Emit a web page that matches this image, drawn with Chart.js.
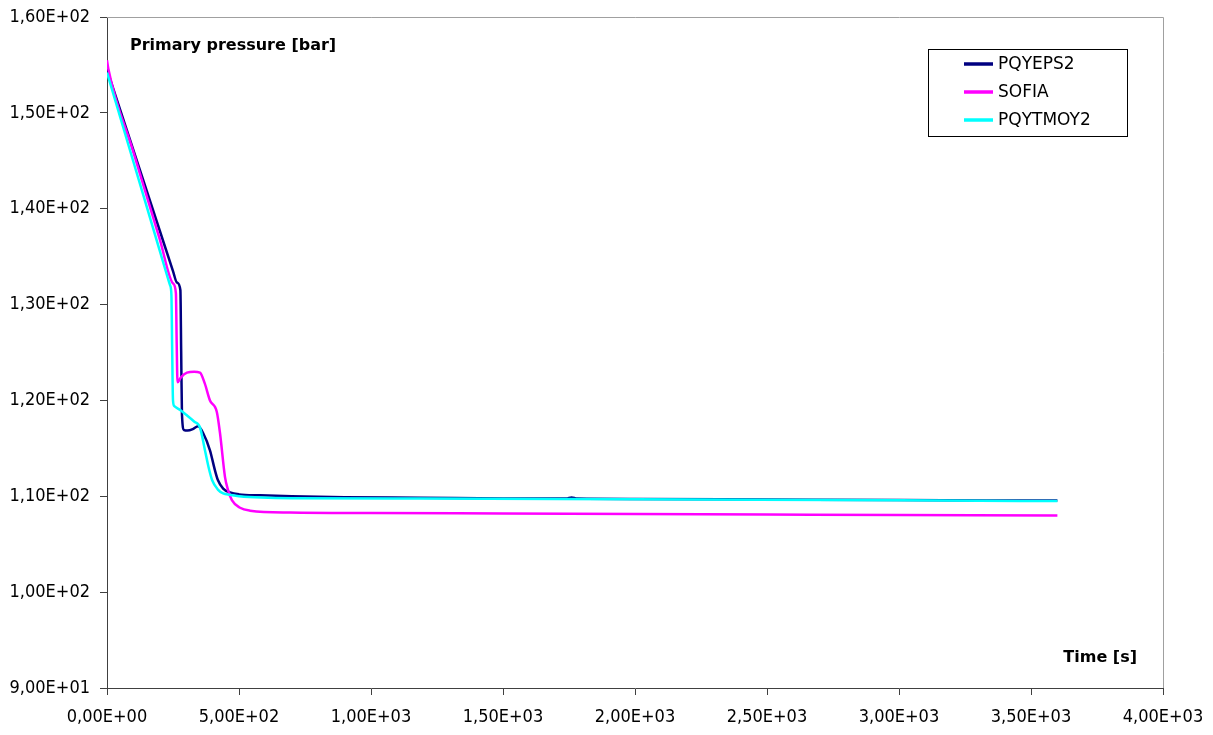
<!DOCTYPE html>
<html>
<head>
<meta charset="utf-8">
<title>Primary pressure</title>
<script src="https://cdn.jsdelivr.net/npm/chart.js@4.4.1/dist/chart.umd.min.js"></script>
<style>
  html, body { margin: 0; padding: 0; background: #fff; }
  #wrap { width: 1213px; height: 735px; }
</style>
</head>
<body>
<div id="wrap"><canvas id="chart" width="1213" height="735"></canvas></div>
<script>
// series (time in s, pressure in bar)
const tEps = [0, 100, 200, 250, 265, 278, 281, 284, 292, 305, 325, 345, 364, 390, 409, 420, 440, 466, 500, 580, 700, 900, 1186, 1500, 1740, 1760, 1780, 2000, 2500, 3000, 3600];
const pEps = [154.5, 146.1, 137.7, 133.5, 132.3, 131.5, 125.0, 118.5, 116.9, 116.85, 117.0, 117.3, 116.6, 114.8, 112.7, 111.7, 110.8, 110.4, 110.2, 110.1, 110.0, 109.9, 109.85, 109.78, 109.76, 109.88, 109.76, 109.72, 109.66, 109.6, 109.55];

const tSofia = [0, 5, 100, 200, 250, 261, 264, 267, 280, 303, 330, 352, 370, 390, 416, 428, 447, 458, 473, 504, 542, 693, 1000, 1500, 2000, 2500, 3000, 3600];
const pSofia = [155.5, 154.6, 145.9, 136.8, 132.2, 131.2, 126.0, 121.9, 122.4, 122.9, 123.0, 122.9, 121.8, 120.0, 118.8, 116.6, 112.0, 110.7, 109.6, 108.8, 108.5, 108.3, 108.25, 108.2, 108.15, 108.1, 108.05, 108.0];

const tMoy = [0, 100, 200, 230, 239, 244, 247, 250, 255, 277, 300, 330, 352, 371, 385, 398, 420, 440, 466, 500, 700, 1186, 2000, 3000, 3600];
const pMoy = [154.2, 144.9, 135.6, 132.8, 132.0, 131.0, 125.0, 120.0, 119.4, 119.0, 118.5, 117.8, 117.2, 114.8, 113.0, 111.7, 110.7, 110.3, 110.15, 110.0, 109.8, 109.78, 109.68, 109.58, 109.5];

const seriesNames = ['PQYEPS2', 'SOFIA', 'PQYTMOY2'];
const seriesColors = ['#000080', '#FF00FF', '#00FFFF'];

const xTicks = [0, 500, 1000, 1500, 2000, 2500, 3000, 3500, 4000];
const yTicks = [90, 100, 110, 120, 130, 140, 150, 160];

const yTitle = 'Primary pressure [bar]';
const xTitle = 'Time [s]';

function toPoints(ts, ps) {
  return ts.map((t, i) => ({ x: t, y: ps[i] }));
}

// Excel style 1,50E+02
function sci(v) {
  if (v === 0) return '0,00E+00';
  const e = Math.floor(Math.log10(Math.abs(v)) + 1e-9);
  const m = v / Math.pow(10, e);
  return m.toFixed(2).replace('.', ',') + 'E' + (e < 0 ? '-' : '+') + String(Math.abs(e)).padStart(2, '0');
}

const tickFont = { family: '"DejaVu Sans Condensed", "DejaVu Sans", sans-serif', size: 18 };

// titles, frame and legend drawn on top of the plot
const extras = {
  id: 'extras',
  afterDraw(chart) {
    const ctx = chart.ctx;
    const a = chart.chartArea;
    ctx.save();

    // light frame top and right
    ctx.strokeStyle = '#a0a0a0';
    ctx.lineWidth = 1;
    ctx.beginPath();
    ctx.moveTo(a.left, a.top + 0.5);
    ctx.lineTo(a.right + 0.5, a.top + 0.5);
    ctx.lineTo(a.right + 0.5, a.bottom);
    ctx.stroke();

    ctx.fillStyle = '#000';
    ctx.font = 'bold 16px "DejaVu Sans", sans-serif';
    ctx.textBaseline = 'alphabetic';
    ctx.textAlign = 'left';
    ctx.fillText(yTitle, 130, 50);
    ctx.textAlign = 'right';
    ctx.fillText(xTitle, 1137, 662);

    // legend box
    const bx = 928, by = 49, bw = 199, bh = 87;
    ctx.fillStyle = '#fff';
    ctx.fillRect(bx, by, bw, bh);
    ctx.strokeStyle = '#000';
    ctx.strokeRect(bx + 0.5, by + 0.5, bw, bh);

    const rows = [64, 92, 120];
    ctx.font = '17px "DejaVu Sans", sans-serif';
    ctx.textAlign = 'left';
    ctx.textBaseline = 'middle';
    seriesNames.forEach((name, i) => {
      ctx.strokeStyle = seriesColors[i];
      ctx.lineWidth = 3.5;
      ctx.beginPath();
      ctx.moveTo(964, rows[i]);
      ctx.lineTo(993, rows[i]);
      ctx.stroke();
      ctx.fillStyle = '#000';
      ctx.fillText(name, 998, rows[i] + 1);
    });

    ctx.restore();
  }
};

const series = [toPoints(tEps, pEps), toPoints(tSofia, pSofia), toPoints(tMoy, pMoy)];

new Chart(document.getElementById('chart'), {
  type: 'line',
  data: {
    datasets: series.map((pts, i) => ({
      label: seriesNames[i],
      data: pts,
      borderColor: seriesColors[i],
      backgroundColor: seriesColors[i],
      borderWidth: 2.5,
      pointRadius: 0,
      fill: false,
      cubicInterpolationMode: 'monotone',
      order: 3 - i,
    })),
  },
  options: {
    responsive: false,
    animation: false,
    layout: { padding: { top: 17, right: 50, left: 0, bottom: 0 } },
    plugins: {
      legend: { display: false },
      tooltip: { enabled: false },
    },
    scales: {
      x: {
        type: 'linear',
        min: xTicks[0],
        max: xTicks[xTicks.length - 1],
        afterBuildTicks: (s) => { s.ticks = xTicks.map((v) => ({ value: v })); },
        afterFit: (s) => { s.height = 47; s.paddingLeft = 0; s.paddingRight = 0; },
        grid: { drawOnChartArea: false, tickLength: 7, tickColor: '#404040' },
        border: { color: '#404040', width: 1 },
        ticks: { color: '#000', font: tickFont, padding: 12, maxRotation: 0, callback: (v) => sci(v) },
      },
      y: {
        type: 'linear',
        min: yTicks[0],
        max: yTicks[yTicks.length - 1],
        afterBuildTicks: (s) => { s.ticks = yTicks.map((v) => ({ value: v })); },
        afterFit: (s) => { s.width = 107; s.paddingTop = 0; s.paddingBottom = 0; },
        grid: { drawOnChartArea: false, tickLength: 7, tickColor: '#404040' },
        border: { color: '#404040', width: 1 },
        ticks: { color: '#000', font: tickFont, padding: 10, callback: (v) => sci(v) },
      },
    },
  },
  plugins: [extras],
});
</script>
</body>
</html>
